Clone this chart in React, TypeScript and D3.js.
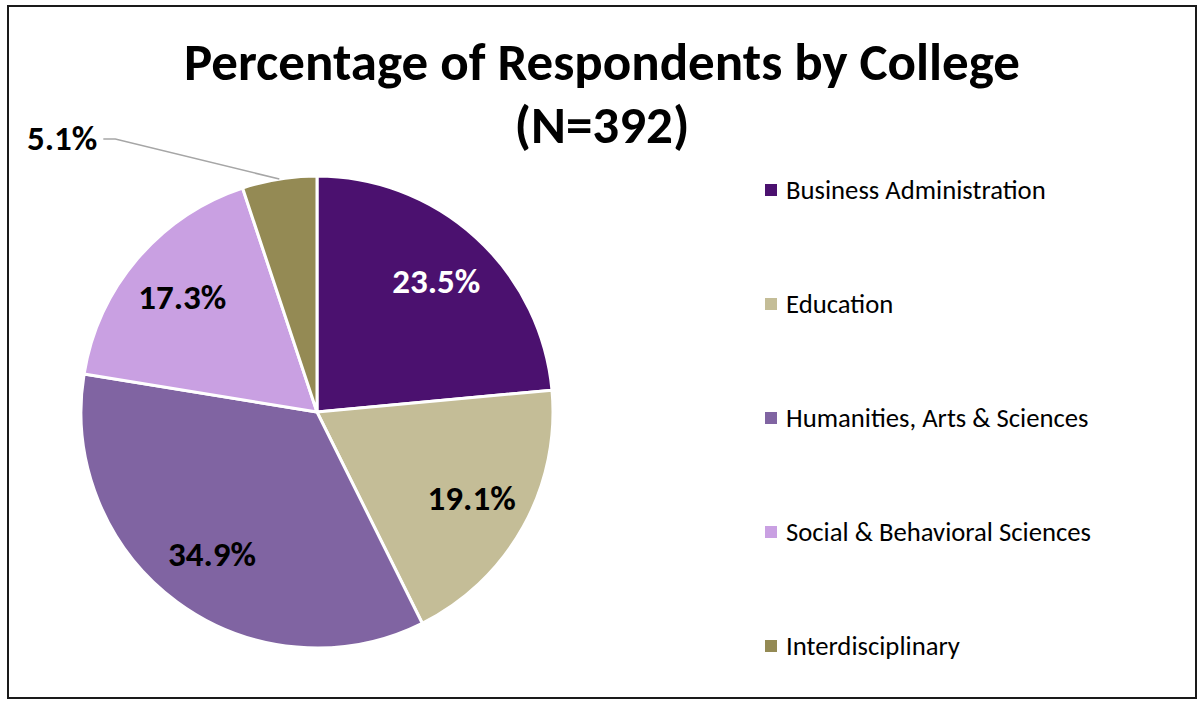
import React from "react";
import * as d3 from "d3";

const colleges = [
  "Business Administration",
  "Education",
  "Humanities, Arts & Sciences",
  "Social & Behavioral Sciences",
  "Interdisciplinary",
];
const percents = [23.5, 19.1, 34.9, 17.3, 5.1];
const sliceColors = ["#4b116f", "#c4bd97", "#8064a2", "#c9a0e2", "#948a54"];
const labelColors = ["#ffffff", "#000000", "#000000", "#000000", "#000000"];
const outsideLabel = [false, false, false, false, true];
const titleLines = ["Percentage of Respondents by College", "(N=392)"];

const W = 1201;
const H = 706;
const FONT = "Carlito, Calibri, Lato, 'Open Sans', sans-serif";

export default function App() {
  const cx = 317;
  const cy = 412;
  const R = 236;
  const data = colleges.map((name, i) => ({ name, value: percents[i], i }));
  const pie = d3
    .pie<any>()
    .value((d) => d.value)
    .sort(null)
    .startAngle(0)
    .endAngle(2 * Math.PI);
  const arcs = pie(data);
  const arcGen = d3.arc<any>().innerRadius(0).outerRadius(R);
  const labelArc = d3.arc<any>().innerRadius(R * 0.75).outerRadius(R * 0.75);
  const edgeArc = d3.arc<any>().innerRadius(R).outerRadius(R);

  const legendY = d3
    .scalePoint<string>()
    .domain(colleges)
    .range([190, 646]);

  return (
    <svg
      width={W}
      height={H}
      style={{ position: "absolute", left: 0, top: 0, background: "#fff" }}
      fontFamily={FONT}
    >
      <rect x={0} y={0} width={W} height={H} fill="#fff" />
      <rect
        x={8}
        y={6}
        width={1188}
        height={692}
        fill="#fff"
        stroke="#1a1a1a"
        strokeWidth={2}
      />
      {titleLines.map((t, i) => (
        <text
          key={t}
          x={602}
          y={80 + i * 63}
          textAnchor="middle"
          fontWeight="bold"
          fontSize={53}
          fill="#000"
        >
          {t}
        </text>
      ))}
      <g transform={`translate(${cx},${cy})`}>
        {arcs.map((a, i) => (
          <path
            key={i}
            d={arcGen(a) || ""}
            fill={sliceColors[i]}
            stroke="#fff"
            strokeWidth={3}
            strokeLinejoin="round"
          />
        ))}
        {arcs.map((a, i) => {
          const label = `${percents[i].toFixed(1)}%`;
          if (outsideLabel[i]) {
            const [ex, ey] = edgeArc.centroid(a);
            const elbowX = ex - 164;
            const elbowY = ey - 40;
            return (
              <g key={"l" + i}>
                <polyline
                  points={`${ex},${ey} ${elbowX},${elbowY} ${elbowX - 12},${elbowY}`}
                  fill="none"
                  stroke="#a6a6a6"
                  strokeWidth={1.5}
                />
                <text
                  x={elbowX - 18}
                  y={elbowY - 1}
                  textAnchor="end"
                  dominantBaseline="central"
                  fontWeight="bold"
                  fontSize={35}
                  fill={labelColors[i]}
                >
                  {label}
                </text>
              </g>
            );
          }
          const [lx, ly] = labelArc.centroid(a);
          return (
            <text
              key={"l" + i}
              x={lx}
              y={ly}
              textAnchor="middle"
              dominantBaseline="central"
              fontWeight="bold"
              fontSize={35}
              fill={labelColors[i]}
            >
              {label}
            </text>
          );
        })}
      </g>
      {colleges.map((c, i) => {
        const y = legendY(c) as number;
        return (
          <g key={c}>
            <rect x={765} y={y - 6} width={12} height={12} fill={sliceColors[i]} />
            <text
              x={786}
              y={y}
              dominantBaseline="central"
              fontSize={26.7}
              fill="#000"
            >
              {c}
            </text>
          </g>
        );
      })}
    </svg>
  );
}
